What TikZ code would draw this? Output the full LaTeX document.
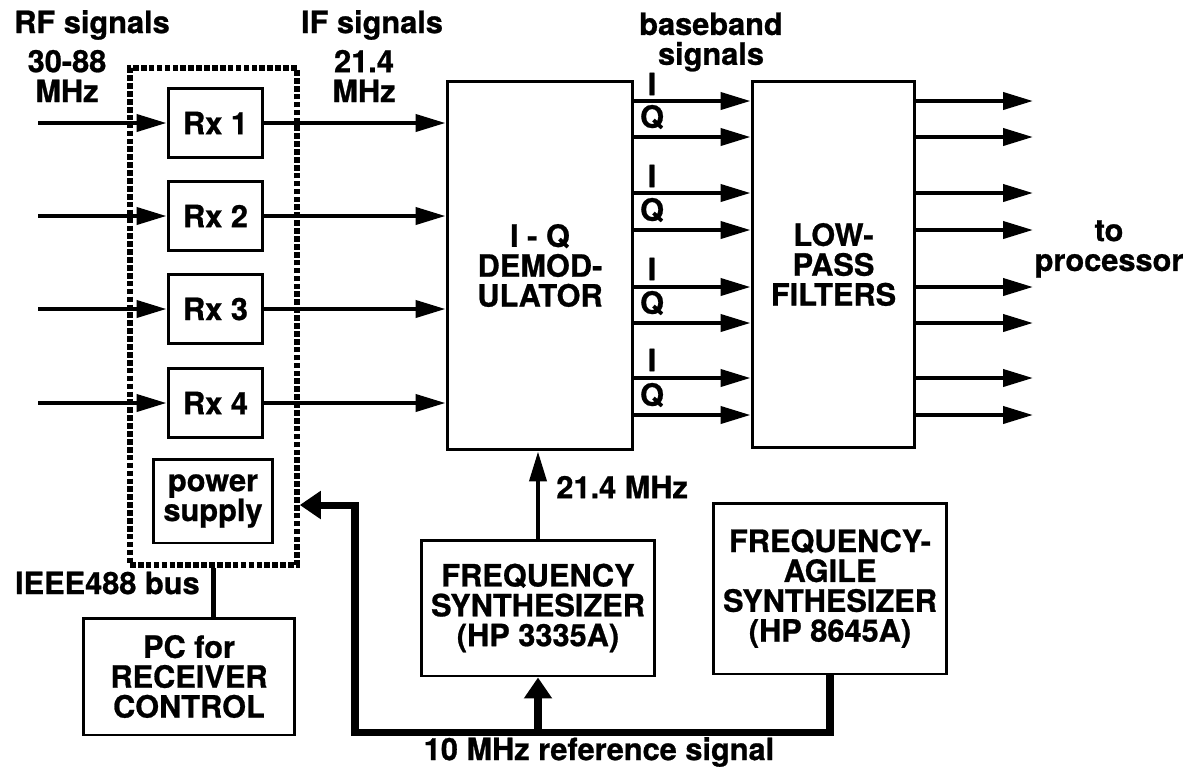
\documentclass[tikz,border=0pt]{standalone}
\usepackage{fontspec}
\setmainfont{TeX Gyre Heros}[BoldFeatures={FakeBold=0.8}]
\usetikzlibrary{arrows.meta}

\begin{document}
\begin{tikzpicture}[x=0.02cm, y=-0.02cm,
  every node/.style={font=\bfseries\fontsize{17.5}{17}\selectfont, align=center, inner sep=0pt},
  blk/.style={draw, line width=1.7pt},
  grp/.style={draw, line width=3.2pt, dash pattern=on 3.2pt off 1.3pt},
  sig/.style={line width=2.3pt, -{Triangle[length=0.6cm, width=0.34cm]}},
  refarr/.style={line width=4pt, -{Triangle[length=0.42cm, width=0.54cm]}}]
  \useasboundingbox (0,0) rectangle (1187,769);

  % receiver rack
  \node[grp, minimum width=3.34cm, minimum height=9.94cm] (rxgroup) at (213.5,316.5) {};
  \node[blk, minimum width=1.9cm, minimum height=1.38cm] (rx1) at (215.5,123) {Rx 1};
  \node[blk, minimum width=1.9cm, minimum height=1.38cm] (rx2) at (215.5,216) {Rx 2};
  \node[blk, minimum width=1.9cm, minimum height=1.38cm] (rx3) at (215.5,309) {Rx 3};
  \node[blk, minimum width=1.9cm, minimum height=1.38cm] (rx4) at (215.5,403) {Rx 4};
  \node[blk, minimum width=2.4cm, minimum height=1.68cm] (power) at (213,501) {power\\supply};
  \node[blk, minimum width=4.24cm, minimum height=2.34cm] (pc) at (189,676.5) {PC for\\RECEIVER\\CONTROL};

  % main chain
  \node[blk, minimum width=3.72cm, minimum height=7.38cm] (demod) at (540,265.5) {I - Q\\DEMOD-\\ULATOR};
  \node[blk, minimum width=3.26cm, minimum height=7.34cm] (lpf) at (833.5,264.5) {LOW-\\PASS\\FILTERS};
  \node[blk, minimum width=4.68cm, minimum height=2.72cm] (fsyn) at (538,608) {FREQUENCY\\SYNTHESIZER\\(HP 3335A)};
  \node[blk, minimum width=4.68cm, minimum height=3.42cm] (agile) at (830,588.5) {FREQUENCY-\\AGILE\\SYNTHESIZER\\(HP 8645A)};

  % labels
  \node (rflbl) at (92,25) {RF signals};   \node (rffreq) at (67,76) {30-88\\MHz};
  \node (iflbl) at (372,25) {IF signals};  \node (iffreq) at (364,76) {21.4\\MHz};
  \node (bblbl) at (711,42) {baseband\\signals};
  \node (toproc) at (1109,249) {to\\processor};
  \node[anchor=west] (lolbl) at (556,487) {21.4 MHz};
  \node[anchor=east] (buslbl) at (200,583) {IEEE488 bus};
  \node (reflbl) at (599,752) {10 MHz reference signal};

  % RF in, IF out
  \coordinate (rfin) at (38,0);
  \draw[sig] (rfin |- rx1.west) -- (rx1.west);  \draw[sig] (rx1.east) -- (rx1.east -| demod.west);
  \draw[sig] (rfin |- rx2.west) -- (rx2.west);  \draw[sig] (rx2.east) -- (rx2.east -| demod.west);
  \draw[sig] (rfin |- rx3.west) -- (rx3.west);  \draw[sig] (rx3.east) -- (rx3.east -| demod.west);
  \draw[sig] (rfin |- rx4.west) -- (rx4.west);  \draw[sig] (rx4.east) -- (rx4.east -| demod.west);

  % baseband I/Q pairs
  \coordinate (procin) at (1033,0);
  \draw[sig] (demod.east |- 0,101) -- (lpf.west |- 0,101);  \draw[sig] (lpf.east |- 0,101) -- (procin |- 0,101);
  \draw[sig] (demod.east |- 0,137) -- (lpf.west |- 0,137);  \draw[sig] (lpf.east |- 0,137) -- (procin |- 0,137);
  \draw[sig] (demod.east |- 0,193) -- (lpf.west |- 0,193);  \draw[sig] (lpf.east |- 0,193) -- (procin |- 0,193);
  \draw[sig] (demod.east |- 0,230) -- (lpf.west |- 0,230);  \draw[sig] (lpf.east |- 0,230) -- (procin |- 0,230);
  \draw[sig] (demod.east |- 0,287) -- (lpf.west |- 0,287);  \draw[sig] (lpf.east |- 0,287) -- (procin |- 0,287);
  \draw[sig] (demod.east |- 0,323) -- (lpf.west |- 0,323);  \draw[sig] (lpf.east |- 0,323) -- (procin |- 0,323);
  \draw[sig] (demod.east |- 0,378) -- (lpf.west |- 0,378);  \draw[sig] (lpf.east |- 0,378) -- (procin |- 0,378);
  \draw[sig] (demod.east |- 0,415) -- (lpf.west |- 0,415);  \draw[sig] (lpf.east |- 0,415) -- (procin |- 0,415);
  \node (i1) at (652,84) {I};   \node (q1) at (652,117) {Q};
  \node (i2) at (652,176) {I};  \node (q2) at (652,210) {Q};
  \node (i3) at (652,269) {I};  \node (q3) at (652,303) {Q};
  \node (i4) at (652,360) {I};  \node (q4) at (652,395) {Q};

  % local oscillator, bus, reference
  \draw[sig] (fsyn.north) -- (fsyn.north |- demod.south);
  \draw[line width=2.5pt] (rxgroup.south) -- (rxgroup.south |- pc.north);
  \coordinate (refbus) at (355,732);
  \draw[refarr] (agile.south) |- (refbus) |- (rxgroup.east |- 0,505);
  \draw[refarr] (fsyn.south |- refbus) -- (fsyn.south);
\end{tikzpicture}
\end{document}
